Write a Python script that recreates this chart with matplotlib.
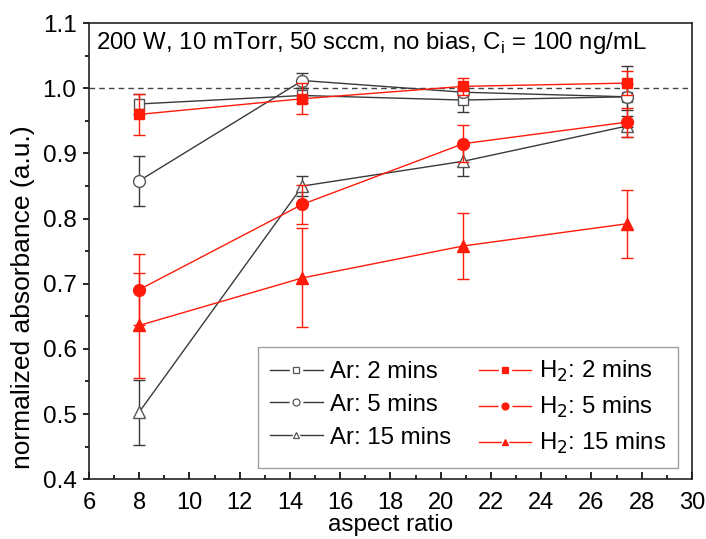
import matplotlib.pyplot as plt
from matplotlib.ticker import MultipleLocator
from matplotlib.lines import Line2D
from matplotlib.legend_handler import HandlerTuple

plt.rcParams['font.family'] = ['Liberation Sans', 'DejaVu Sans']

# aspect ratios of the trenches
aspect = [8, 14.5, 20.9, 27.4]

# Ar plasma treatment
ar_2 = [0.976, 0.989, 0.982, 0.987]
ar_2_err = [0.015, 0.012, 0.018, 0.047]
ar_5 = [0.858, 1.012, 0.994, 0.987]
ar_5_err = [0.038, 0.012, 0.010, 0.020]
ar_15 = [0.503, 0.850, 0.888, 0.942]
ar_15_err = [0.050, 0.016, 0.023, 0.016]

# H2 plasma treatment
h2_2 = [0.960, 0.984, 1.003, 1.008]
h2_2_err = [0.031, 0.024, 0.013, 0.018]
h2_5 = [0.691, 0.822, 0.915, 0.948]
h2_5_err = [0.054, 0.030, 0.028, 0.022]
h2_15 = [0.636, 0.709, 0.758, 0.792]
h2_15_err = [0.080, 0.076, 0.050, 0.052]

fig = plt.figure(figsize=(7.06, 5.39), dpi=100)
ax = fig.add_axes([0.126, 0.111, 0.854, 0.846])

ax.axhline(1.0, color='#444444', ls=(0, (4, 3)), lw=1.0, zorder=1)

black = '#3a3a3a'
medge = '#555555'
red = '#ff1a0a'
msize = {'s': 7.5, 'o': 8.5, '^': 9}


def legend_handle(color, m, face, edge):
    # line, white gap behind the marker, then the marker itself
    line = Line2D([], [], color=color, lw=1.0)
    gap = Line2D([], [], ls='none', marker=m, ms=9, mfc='white', mec='white')
    mark = Line2D([], [], ls='none', marker=m, ms=5, mfc=face, mec=edge, mew=0.9)
    return (line, gap, mark)


handles = []
labels = []
for y, e, m, lab in [(ar_2, ar_2_err, 's', 'Ar: 2 mins'),
                     (ar_5, ar_5_err, 'o', 'Ar: 5 mins'),
                     (ar_15, ar_15_err, '^', 'Ar: 15 mins')]:
    ax.errorbar(aspect, y, yerr=e, color=black, lw=1.0, marker=m,
                ms=msize[m], mfc='white', mec=medge, mew=1.0, capsize=4,
                elinewidth=1.0, capthick=1.0, zorder=3)
    handles.append(legend_handle(black, m, 'white', medge))
    labels.append(lab)

for y, e, m, lab in [(h2_2, h2_2_err, 's', 'H$_2$: 2 mins'),
                     (h2_5, h2_5_err, 'o', 'H$_2$: 5 mins'),
                     (h2_15, h2_15_err, '^', 'H$_2$: 15 mins')]:
    ax.errorbar(aspect, y, yerr=e, color=red, lw=1.0, marker=m,
                ms=msize[m], mfc=red, mec=red, capsize=4,
                elinewidth=1.0, capthick=1.0, zorder=4)
    handles.append(legend_handle(red, m, red, red))
    labels.append(lab)

ax.set_xlim(6, 30)
ax.set_ylim(0.4, 1.1)
ax.xaxis.set_major_locator(MultipleLocator(2))
ax.xaxis.set_minor_locator(MultipleLocator(1))
ax.yaxis.set_major_locator(MultipleLocator(0.1))
ax.yaxis.set_minor_locator(MultipleLocator(0.05))
ax.yaxis.set_major_formatter(plt.FuncFormatter(lambda v, p: f'{v:.1f}'))

ax.tick_params(axis='x', which='major', direction='in', length=5, width=1.2,
               labelsize=17, pad=9)
ax.tick_params(axis='x', which='minor', direction='in', length=3, width=1.2)
ax.tick_params(axis='y', which='major', direction='out', length=4.5, width=1.2,
               labelsize=17.5, pad=4.5)
ax.tick_params(axis='y', which='minor', direction='out', length=3, width=1.2)
for s in ax.spines.values():
    s.set_linewidth(1.2)
    s.set_color('#222222')

ax.set_xlabel('aspect ratio', fontsize=17.5, labelpad=0)
ax.set_ylabel('normalized absorbance (a.u.)', fontsize=19)
ax.yaxis.set_label_coords(-0.09, 0.40)

ax.text(0.012, 0.985, '200 W, 10 mTorr, 50 sccm, no bias, C$_\\mathregular{i}$ = 100 ng/mL',
        transform=ax.transAxes, fontsize=17.3, va='top', ha='left')

leg = ax.legend(handles=handles, labels=labels, ncol=2, loc='lower right',
                bbox_to_anchor=(0.977, 0.024), borderaxespad=0,
                fontsize=17.3, frameon=True, fancybox=False,
                edgecolor='#888888',
                handler_map={tuple: HandlerTuple(ndivide=1, pad=0)},
                handlelength=2.2, columnspacing=1.15, labelspacing=0.45,
                borderpad=0.5, handletextpad=0.3)
leg.get_frame().set_linewidth(1.0)

fig.savefig('out.png', dpi=100)
